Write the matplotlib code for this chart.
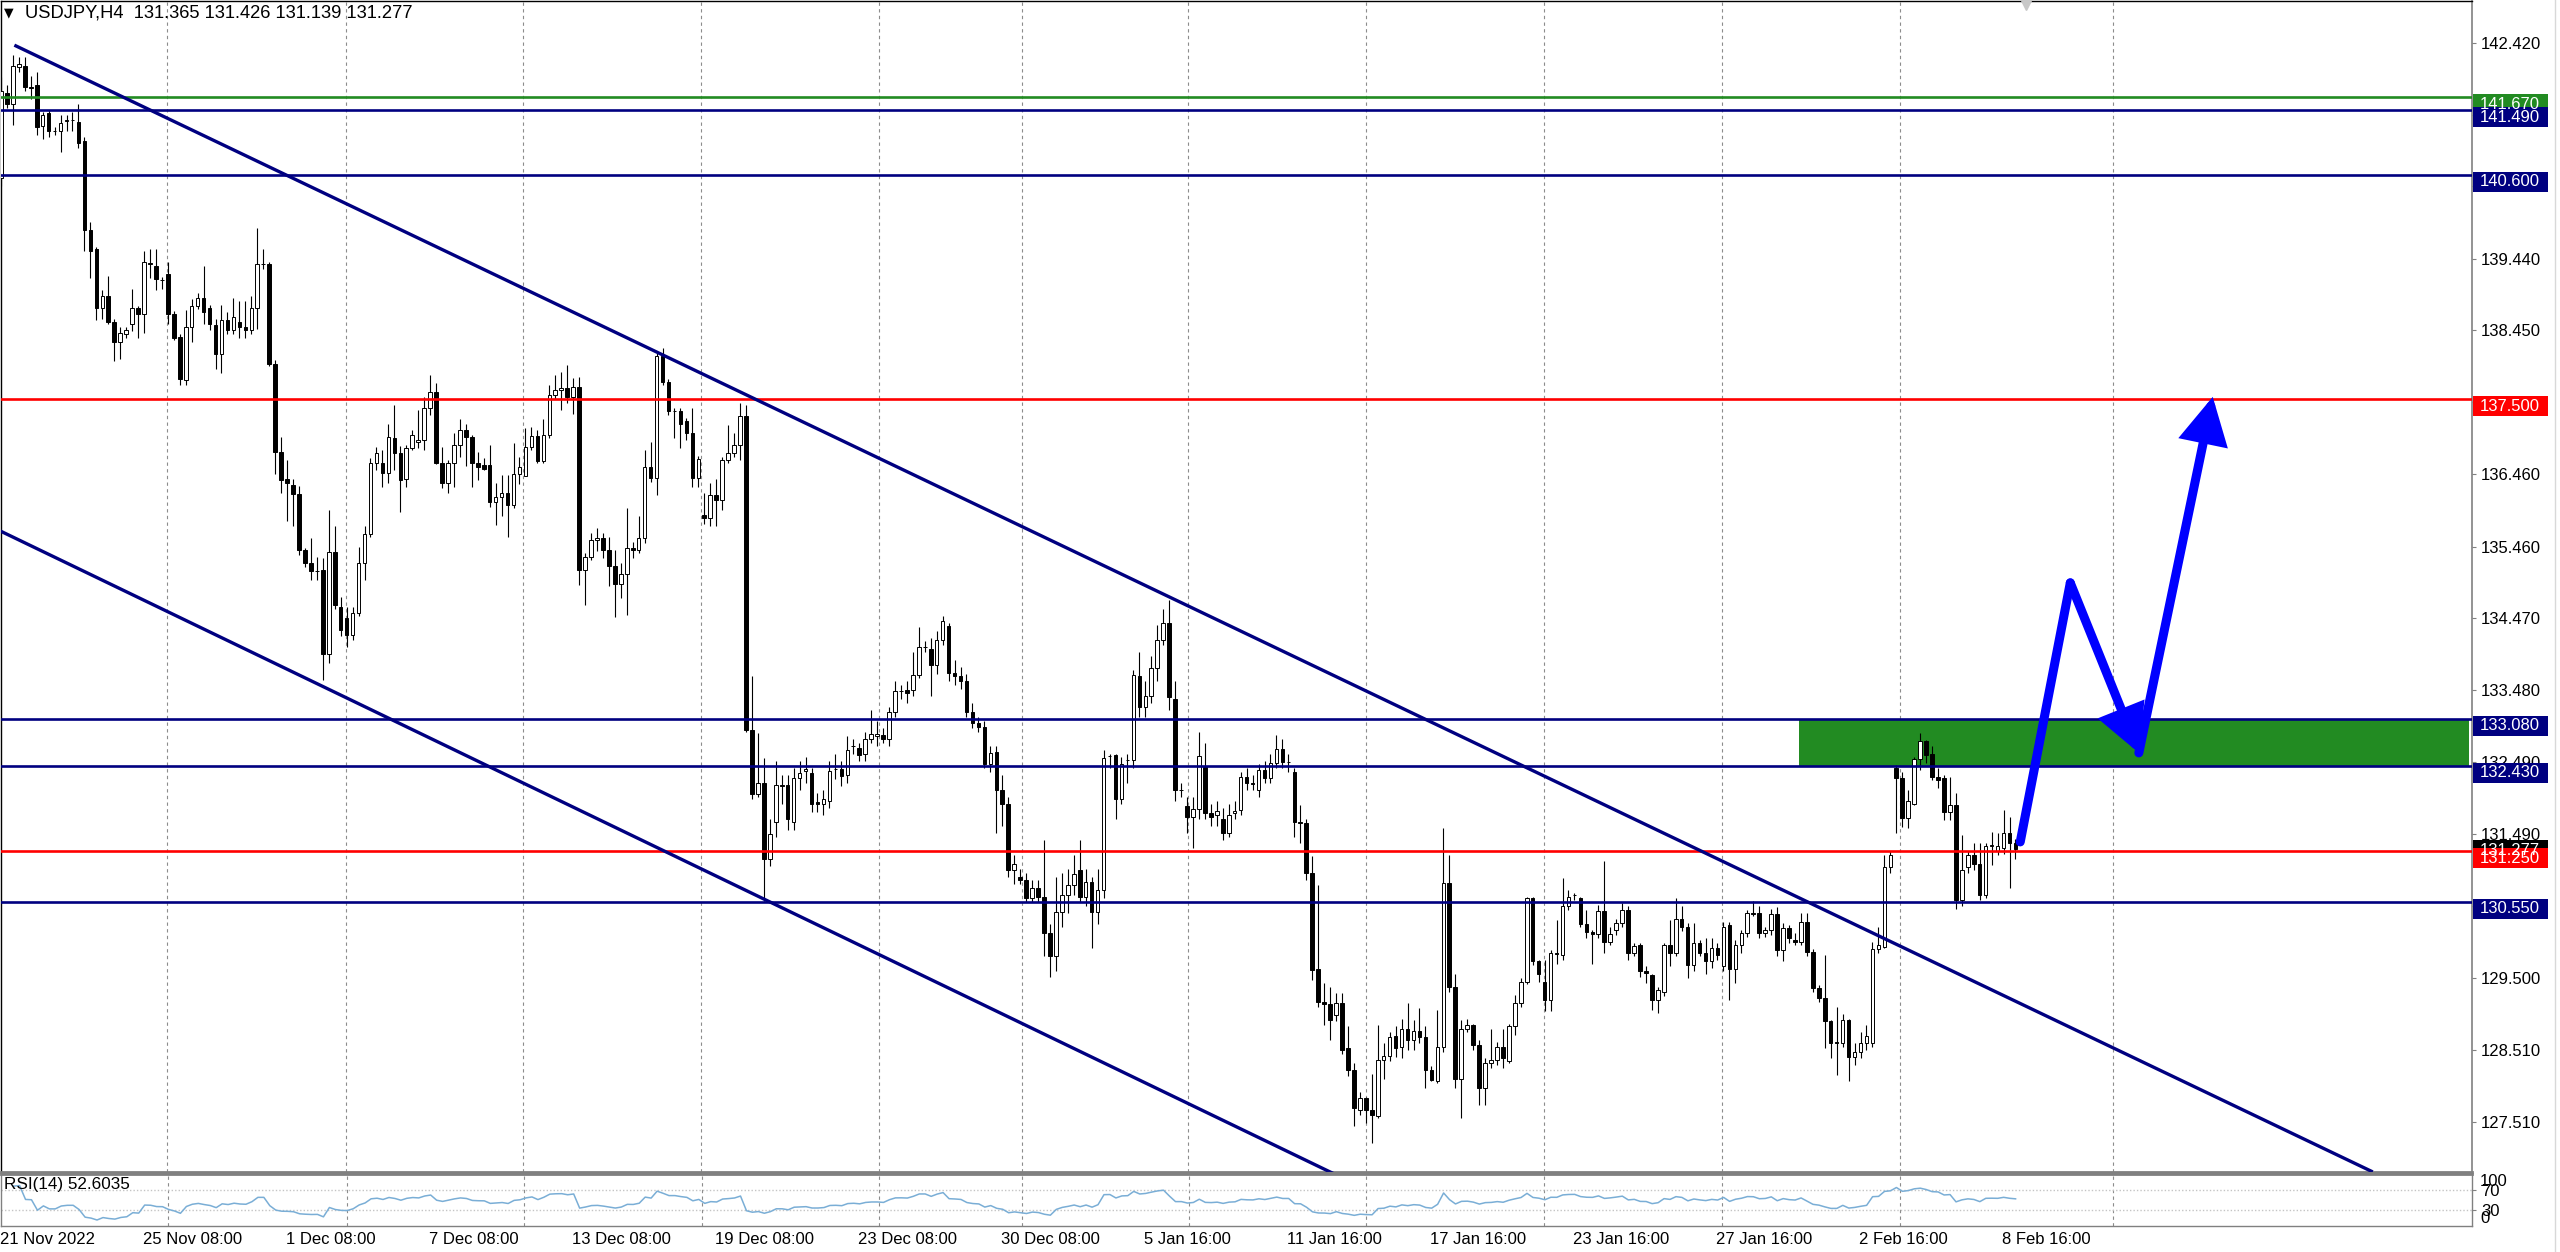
import numpy as np
import pandas as pd
import matplotlib
matplotlib.use("Agg")
import matplotlib.pyplot as plt
import matplotlib.transforms as mtransforms
from matplotlib.patches import Rectangle, FancyArrowPatch
from matplotlib.lines import Line2D

plt.rcParams['font.family'] = ['Liberation Sans', 'DejaVu Sans']

# USDJPY H4 candles, bar 0 = 21 Nov 2022
opens = [
    140.55, 141.73, 141.58, 142.09, 142.10, 141.81, 141.84, 141.27, 141.45, 141.20,
    141.20, 141.34, 141.35, 141.33, 141.06, 139.84, 139.58, 138.76, 138.92, 138.57,
    138.29, 138.40, 138.53, 138.76, 138.67, 139.38, 139.34, 139.15, 139.23, 138.67,
    138.36, 137.76, 138.50, 138.79, 138.90, 138.76, 138.52, 138.12, 138.59, 138.46,
    138.56, 138.50, 138.46, 138.76, 139.37, 139.37, 137.99, 136.77, 136.39, 136.31,
    136.19, 135.41, 135.23, 135.12, 135.14, 133.98, 135.39, 134.63, 134.48, 134.24,
    134.54, 135.23, 135.64, 136.61, 136.61, 136.48, 136.96, 136.76, 136.39, 136.82,
    136.90, 136.93, 137.37, 137.60, 136.61, 136.34, 136.61, 136.87, 137.07, 136.97,
    136.61, 136.59, 136.59, 136.08, 136.14, 136.20, 136.04, 136.47, 136.43, 136.84,
    136.99, 136.64, 137.00, 137.56, 137.63, 137.65, 137.53, 137.66, 135.14, 135.32,
    135.55, 135.58, 135.41, 135.19, 134.95, 135.08, 135.44, 135.42, 135.58, 136.56,
    136.41, 138.09, 137.74, 137.33, 137.33, 137.19, 137.03, 136.41, 135.90, 135.85,
    136.17, 136.10, 136.66, 136.75, 136.87, 137.26, 132.92, 132.04, 132.19, 131.14,
    131.66, 132.16, 132.16, 131.66, 132.27, 132.36, 132.33, 131.93, 131.91, 131.95,
    132.39, 132.39, 132.30, 132.70, 132.68, 132.60, 132.80, 132.84, 132.86, 132.80,
    133.18, 133.47, 133.48, 133.48, 133.69, 134.07, 134.04, 133.82, 134.17, 134.37,
    133.71, 133.67, 133.61, 133.18, 133.03, 132.97, 132.45, 132.62, 132.10, 131.90,
    130.99, 130.90, 130.85, 130.61, 130.75, 130.62, 130.12, 129.80, 130.41, 130.65,
    130.78, 130.99, 130.62, 130.82, 130.41, 130.71, 132.57, 132.58, 131.98, 132.51,
    132.51, 133.67, 133.24, 133.40, 133.79, 134.17, 134.40, 133.35, 132.10, 131.87,
    131.72, 131.84, 132.42, 131.78, 131.75, 131.69, 131.51, 131.78, 131.82, 132.28,
    132.20, 132.10, 132.38, 132.26, 132.47, 132.67, 132.48, 132.35, 131.66, 131.64,
    130.95, 129.63, 129.17, 129.14, 128.99, 129.16, 128.53, 128.23, 127.68, 127.84,
    127.68, 127.59, 128.37, 128.42, 128.70, 128.55, 128.80, 128.64, 128.77, 128.69,
    128.23, 128.07, 128.55, 130.81, 129.38, 128.11, 128.80, 128.85, 128.57, 127.98,
    128.32, 128.37, 128.55, 128.35, 128.83, 129.15, 129.45, 130.60, 129.73, 129.45,
    129.20, 129.85, 129.82, 130.49, 130.64, 130.60, 130.25, 130.13, 130.11, 130.42,
    130.00, 130.16, 130.26, 130.44, 129.84, 129.96, 129.60, 129.54, 129.20, 129.31,
    129.96, 129.84, 130.32, 130.21, 129.68, 129.98, 129.84, 129.73, 129.91, 129.66,
    130.23, 129.63, 129.96, 130.12, 130.40, 130.40, 130.12, 130.16, 130.39, 129.89,
    130.19, 130.03, 130.00, 130.28, 129.86, 129.36, 129.22, 128.90, 128.62, 128.60,
    128.92, 128.41, 128.48, 128.60, 128.60, 129.90, 129.93, 131.04, 132.40, 132.26,
    131.71, 131.91, 132.53, 132.77, 132.60, 132.28, 132.26, 131.80, 131.89, 130.58,
    131.04, 131.20, 131.08, 130.65, 131.32, 131.25, 131.29, 131.51, 131.365,
]
highs = [
    141.95, 141.84, 142.25, 142.22, 142.22, 141.96, 142.02, 141.46, 141.49, 141.26,
    141.43, 141.43, 141.46, 141.58, 141.12, 139.95, 139.60, 139.00, 139.20, 138.60,
    138.50, 138.50, 139.02, 138.79, 139.55, 139.57, 139.57, 139.18, 139.40, 138.72,
    138.40, 138.73, 138.88, 138.96, 139.34, 138.80, 138.60, 138.80, 138.70, 138.90,
    138.85, 138.85, 138.92, 139.87, 139.57, 139.40, 138.04, 136.98, 136.66, 136.40,
    136.30, 135.44, 135.58, 135.32, 135.30, 135.97, 135.75, 134.77, 134.63, 134.63,
    135.46, 135.74, 136.68, 136.84, 136.80, 137.16, 137.42, 136.85, 136.87, 137.07,
    137.35, 137.53, 137.83, 137.72, 136.84, 136.66, 137.03, 137.23, 137.16, 137.00,
    136.77, 136.68, 136.87, 136.34, 136.45, 136.45, 136.89, 136.70, 137.10, 137.12,
    137.07, 137.23, 137.69, 137.83, 137.88, 137.97, 137.79, 137.81, 135.37, 135.65,
    135.72, 135.65, 135.60, 135.42, 135.23, 135.99, 135.53, 135.88, 136.80, 136.91,
    138.13, 138.20, 137.77, 137.37, 137.37, 137.24, 137.37, 136.71, 136.20, 136.34,
    136.40, 136.70, 137.14, 137.03, 137.44, 137.42, 133.67, 132.89, 132.54, 131.70,
    132.50, 132.30, 132.30, 132.40, 132.50, 132.55, 132.40, 132.05, 132.10, 132.50,
    132.60, 132.50, 132.85, 132.80, 132.75, 132.90, 133.20, 133.05, 132.95, 133.25,
    133.60, 133.55, 133.60, 134.00, 134.35, 134.15, 134.20, 134.30, 134.50, 134.40,
    133.90, 133.80, 133.70, 133.30, 133.10, 133.05, 132.70, 132.70, 132.30, 132.00,
    131.20, 131.00, 130.95, 130.85, 130.85, 131.40, 130.25, 130.90, 130.95, 131.00,
    131.20, 131.40, 131.00, 130.90, 131.00, 132.65, 132.60, 132.60, 132.55, 132.60,
    133.75, 134.00, 133.60, 133.95, 134.38, 134.60, 134.72, 133.60, 132.20, 132.00,
    132.00, 132.90, 132.75, 131.90, 131.95, 131.85, 131.90, 131.95, 132.35, 132.40,
    132.30, 132.45, 132.50, 132.60, 132.86, 132.80, 132.60, 132.40, 131.89, 131.70,
    131.18, 130.79, 129.43, 129.38, 129.29, 129.29, 128.83, 128.32, 127.93, 127.86,
    128.18, 128.85, 128.60, 128.76, 128.83, 128.94, 129.15, 128.92, 129.08, 128.83,
    128.28, 129.06, 131.57, 131.20, 129.56, 128.92, 128.94, 128.87, 128.64, 128.39,
    128.80, 128.62, 128.80, 128.87, 129.27, 129.50, 130.62, 130.62, 129.75, 129.75,
    129.89, 130.30, 130.88, 130.71, 130.68, 130.62, 130.44, 130.16, 130.51, 131.11,
    130.21, 130.32, 130.53, 130.49, 129.98, 129.98, 129.66, 129.56, 129.38, 129.98,
    130.30, 130.60, 130.49, 130.26, 130.26, 130.03, 130.05, 130.05, 129.98, 130.28,
    130.28, 130.03, 130.16, 130.44, 130.57, 130.50, 130.21, 130.46, 130.48, 130.26,
    130.23, 130.12, 130.40, 130.40, 129.90, 129.40, 129.82, 128.92, 129.10, 129.00,
    128.94, 128.60, 128.75, 128.85, 130.00, 130.20, 131.20, 131.25, 132.44, 132.35,
    132.10, 132.56, 132.88, 132.79, 132.70, 132.40, 132.30, 132.28, 132.05, 131.48,
    131.25, 131.36, 131.36, 131.36, 131.52, 131.50, 131.82, 131.73, 131.426,
]
lows = [
    140.45, 141.52, 141.29, 142.02, 141.76, 141.64, 141.15, 141.09, 141.12, 141.15,
    140.91, 141.20, 141.20, 140.97, 139.55, 139.17, 138.59, 138.60, 138.53, 138.03,
    138.06, 138.35, 138.44, 138.35, 138.41, 139.17, 139.00, 139.02, 138.53, 138.32,
    137.69, 137.69, 138.29, 138.75, 138.53, 138.45, 137.92, 137.86, 138.40, 138.40,
    138.35, 138.35, 138.40, 138.47, 139.30, 137.95, 136.47, 136.20, 135.81, 135.74,
    135.35, 135.18, 135.00, 135.00, 133.62, 133.85, 134.60, 134.22, 134.08, 134.17,
    134.50, 135.00, 135.60, 136.52, 136.29, 136.34, 136.52, 135.94, 136.29, 136.80,
    136.82, 136.80, 137.28, 136.60, 136.27, 136.20, 136.29, 136.70, 136.57, 136.29,
    136.38, 136.52, 136.01, 135.76, 135.88, 135.60, 135.99, 136.33, 136.43, 136.80,
    136.61, 136.61, 136.96, 137.50, 137.35, 137.45, 137.30, 134.93, 134.65, 135.27,
    135.40, 135.30, 134.91, 134.49, 134.75, 134.52, 135.30, 135.37, 135.51, 136.36,
    136.17, 137.70, 137.28, 136.96, 136.82, 136.93, 136.29, 136.29, 135.77, 135.74,
    135.74, 135.97, 136.61, 136.70, 136.66, 132.90, 131.98, 132.00, 130.56, 131.05,
    131.45, 131.90, 131.55, 131.55, 132.10, 132.20, 131.80, 131.80, 131.75, 131.85,
    132.25, 132.15, 132.20, 132.60, 132.50, 132.50, 132.75, 132.70, 132.75, 132.70,
    133.10, 133.35, 133.30, 133.40, 133.65, 134.00, 133.40, 133.70, 134.10, 133.60,
    133.55, 133.50, 133.10, 132.95, 132.90, 132.40, 132.35, 131.50, 131.60, 130.90,
    130.80, 130.80, 130.55, 130.55, 130.55, 129.80, 129.51, 129.60, 130.20, 130.40,
    130.65, 130.55, 130.50, 129.92, 130.25, 130.60, 132.40, 131.70, 131.90, 132.20,
    132.40, 133.10, 133.10, 133.30, 133.60, 134.10, 133.20, 131.95, 132.00, 131.50,
    131.30, 131.70, 131.70, 131.60, 131.60, 131.40, 131.45, 131.70, 131.75, 132.10,
    132.10, 132.00, 132.20, 132.20, 132.40, 132.40, 132.35, 131.45, 131.36, 130.85,
    129.47, 129.10, 128.85, 128.64, 128.90, 128.45, 128.14, 127.45, 127.60, 127.49,
    127.22, 127.56, 128.11, 128.35, 128.41, 128.40, 128.50, 128.50, 128.60, 127.98,
    128.07, 128.05, 128.48, 129.30, 127.98, 127.56, 128.76, 128.50, 127.75, 127.75,
    128.25, 128.30, 128.25, 128.32, 128.71, 129.10, 129.42, 129.68, 129.45, 129.04,
    129.04, 129.70, 129.75, 130.44, 130.58, 130.20, 130.05, 129.70, 130.05, 129.84,
    129.95, 130.10, 130.20, 129.75, 129.80, 129.52, 129.43, 129.06, 129.01, 129.25,
    129.66, 129.80, 130.15, 129.50, 129.60, 129.80, 129.56, 129.64, 129.75, 129.59,
    129.20, 129.43, 129.84, 130.07, 130.36, 130.05, 130.07, 130.10, 129.80, 129.73,
    129.98, 129.95, 129.95, 129.80, 129.30, 129.17, 128.53, 128.40, 128.16, 128.55,
    128.07, 128.30, 128.40, 128.50, 128.55, 129.85, 129.91, 130.95, 131.50, 131.59,
    131.57, 131.89, 132.37, 132.47, 132.24, 132.12, 131.68, 131.68, 130.46, 130.49,
    130.95, 130.99, 130.58, 130.60, 131.06, 131.20, 131.22, 130.74, 131.139,
]
closes = [
    141.75, 141.58, 142.10, 142.13, 141.81, 141.80, 141.26, 141.43, 141.20, 141.20,
    141.32, 141.35, 141.35, 141.04, 139.84, 139.55, 138.76, 138.93, 138.56, 138.29,
    138.41, 138.46, 138.76, 138.67, 139.40, 139.37, 139.16, 139.14, 138.67, 138.35,
    137.77, 138.50, 138.79, 138.90, 138.70, 138.53, 138.12, 138.59, 138.46, 138.63,
    138.50, 138.46, 138.76, 139.37, 139.37, 137.99, 136.77, 136.38, 136.34, 136.19,
    135.41, 135.23, 135.12, 135.13, 133.98, 135.39, 134.65, 134.31, 134.24, 134.54,
    135.23, 135.64, 136.61, 136.76, 136.48, 136.97, 136.76, 136.38, 136.82, 137.00,
    136.93, 137.37, 137.60, 136.61, 136.34, 136.61, 136.87, 137.07, 136.97, 136.61,
    136.56, 136.54, 136.08, 136.14, 136.20, 136.04, 136.47, 136.56, 136.84, 136.99,
    136.64, 137.00, 137.56, 137.63, 137.65, 137.53, 137.66, 135.14, 135.32, 135.55,
    135.58, 135.41, 135.19, 134.95, 135.08, 135.44, 135.42, 135.58, 136.56, 136.41,
    138.09, 137.74, 137.33, 137.33, 137.16, 137.03, 136.41, 136.67, 135.85, 136.17,
    136.10, 136.66, 136.75, 136.87, 137.26, 132.92, 132.04, 132.19, 131.14, 131.49,
    132.16, 132.15, 131.69, 132.27, 132.33, 132.39, 131.90, 131.90, 131.98, 132.36,
    132.39, 132.29, 132.65, 132.70, 132.58, 132.80, 132.87, 132.87, 132.80, 133.18,
    133.46, 133.47, 133.44, 133.69, 134.07, 134.07, 133.82, 134.17, 134.43, 133.71,
    133.67, 133.61, 133.18, 133.03, 132.97, 132.45, 132.61, 132.10, 131.90, 130.99,
    131.08, 130.86, 130.61, 130.75, 130.62, 130.12, 129.80, 130.41, 130.65, 130.78,
    130.94, 130.62, 130.82, 130.41, 130.71, 132.54, 132.57, 131.98, 132.45, 132.51,
    133.69, 133.24, 133.40, 133.79, 134.17, 134.40, 133.38, 132.10, 132.10, 131.72,
    131.84, 132.57, 131.78, 131.72, 131.81, 131.51, 131.75, 131.81, 132.28, 132.20,
    132.18, 132.38, 132.26, 132.47, 132.67, 132.48, 132.48, 131.66, 131.64, 130.95,
    129.61, 129.17, 129.14, 128.92, 129.16, 128.51, 128.23, 127.70, 127.84, 127.68,
    127.61, 128.37, 128.42, 128.69, 128.53, 128.80, 128.64, 128.77, 128.69, 128.23,
    128.09, 128.55, 130.81, 129.38, 128.11, 128.80, 128.85, 128.57, 127.98, 128.32,
    128.37, 128.55, 128.39, 128.83, 129.15, 129.45, 130.60, 129.73, 129.56, 129.20,
    129.84, 129.83, 130.49, 130.62, 130.65, 130.25, 130.13, 130.11, 130.42, 130.00,
    130.11, 130.26, 130.44, 129.84, 129.94, 129.59, 129.57, 129.20, 129.33, 129.96,
    129.84, 130.32, 130.21, 129.68, 129.98, 129.84, 129.73, 129.91, 129.82, 130.21,
    129.63, 129.96, 130.12, 130.40, 130.38, 130.12, 130.16, 130.39, 129.89, 130.19,
    130.05, 130.00, 130.28, 129.86, 129.36, 129.22, 128.90, 128.60, 128.60, 128.92,
    128.41, 128.48, 128.60, 128.70, 129.90, 129.95, 131.04, 131.20, 132.26, 131.71,
    131.94, 132.53, 132.77, 132.58, 132.28, 132.24, 131.80, 131.89, 130.58, 130.99,
    131.20, 131.08, 130.65, 131.32, 131.34, 131.32, 131.51, 131.36, 131.277,
]

# horizontal levels and their colours
level_prices = [141.67, 141.49, 140.60, 137.50, 133.08, 132.43, 131.25, 130.55]
level_colors = ['#228B22', '#000080', '#000080', '#ff0000', '#000080', '#000080', '#ff0000', '#000080']
level_texts = ['141.670', '141.490', '140.600', '137.500', '133.080', '132.430', '131.250', '130.550']
bid_price = 131.277

# supply zone
zone_start, zone_low, zone_high = 301.7, 132.43, 133.08

# channel lines (bar index, price)
upper_x, upper_y = [2.5, 397.7], [142.38, 126.83]
lower_x, lower_y = [-0.2, 223.5], [135.68, 126.80]

# projected path
path_x = [338.8, 347.2, 358.7, 371.1]
path_y = [131.38, 134.96, 132.61, 137.53]

price_ticks = [142.42, 141.43, 140.45, 139.44, 138.45, 137.46, 136.46, 135.46,
               134.47, 133.48, 132.49, 131.49, 130.50, 129.50, 128.51, 127.51]
date_labels = ['21 Nov 2022', '25 Nov 08:00', '1 Dec 08:00', '7 Dec 08:00', '13 Dec 08:00',
               '19 Dec 08:00', '23 Dec 08:00', '30 Dec 08:00', '5 Jan 16:00', '11 Jan 16:00',
               '17 Jan 16:00', '23 Jan 16:00', '27 Jan 16:00', '2 Feb 16:00', '8 Feb 16:00']
grid_bars = [27.9, 57.9, 87.6, 117.5, 147.3, 171.3, 199.2, 229.0, 258.9, 288.8, 318.6, 354.4]

W, H = 2560, 1252
fig = plt.figure(figsize=(W / 100, H / 100), dpi=100)
fig.patch.set_facecolor('white')


def px_axes(x0, y0, x1, y1):
    return fig.add_axes([x0 / W, 1 - y1 / H, (x1 - x0) / W, (y1 - y0) / H])


ax = px_axes(0.5, 0.5, 2472, 1172)
axr = px_axes(0.5, 1174, 2472, 1226)

xmin, xmax = -0.08, 414.6
ytop, ybot = 143.007, 126.819
ax.set_xlim(xmin, xmax)
ax.set_ylim(ybot, ytop)
axr.set_xlim(xmin, xmax)
axr.set_ylim(0, 100)
axw = 2471.5
pp = (ytop - ybot) / 1171.5  # price per pixel

o = np.array(opens)
h = np.array(highs)
l = np.array(lows)
c = np.array(closes)
x = np.arange(len(c))
up = c >= o

# grid
for g in grid_bars:
    ax.axvline(g, color='#8c8c8c', lw=0.8, ls=(0, (3, 3)), zorder=0.5)
    axr.axvline(g, color='#8c8c8c', lw=0.8, ls=(0, (3, 3)), zorder=0.5)

ax.add_patch(Rectangle((zone_start, zone_low), 414.1 - zone_start, zone_high - zone_low,
                       fc='#228B22', ec='none', zorder=1))

# candles
ax.vlines(x, l, h, color='black', lw=0.8, zorder=2)
ax.bar(x, np.abs(c - o), bottom=np.minimum(o, c), width=0.6,
       color=np.where(up, 'white', 'black'), edgecolor='black', linewidth=0.7, zorder=3)

for p, col in zip(level_prices, level_colors):
    ax.axhline(p, color=col, lw=1.9, zorder=4)

ax.plot(upper_x, upper_y, color='#000080', lw=2.4, zorder=4)
ax.plot(lower_x, lower_y, color='#000080', lw=2.4, zorder=4)

# projection arrows
ax.plot(path_x[:2], path_y[:2], color='#0000ff', lw=6.5, solid_capstyle='round', zorder=5)
for k in (1, 2):
    arr = FancyArrowPatch((path_x[k], path_y[k]), (path_x[k + 1], path_y[k + 1]),
                          arrowstyle='-|>,head_length=0.6,head_width=0.32', mutation_scale=40,
                          color='#0000ff', lw=6.5, shrinkA=0, shrinkB=0, zorder=5,
                          capstyle='round', joinstyle='miter')
    ax.add_patch(arr)

# chart shift marker
ax.plot([339.8], [ytop - 4 * pp], marker='v', color='#c8c8c8', ms=9, clip_on=False, zorder=6)

# right price scale
ax.yaxis.tick_right()
ax.set_yticks(price_ticks)
ax.set_yticklabels(['%.3f' % t for t in price_ticks])
ax.tick_params(axis='y', length=3, width=0.8, color='#808080', pad=3.6, labelsize=12, labelcolor='black')
ax.set_xticks([])

blend = mtransforms.blended_transform_factory(ax.transAxes, ax.transData)


def price_box(p, txt, col, top_off=3):
    ax.add_patch(Rectangle((1 + 1 / axw, p - (20 - top_off) * pp), 75 / axw, 20 * pp,
                           transform=blend, fc=col, ec='none', clip_on=False, zorder=6))
    ax.text(1 + 8 / axw, p - (10 - top_off) * pp, txt, transform=blend, color='white',
            fontsize=12, va='center', ha='left', zorder=7, clip_on=False)


price_box(bid_price, '131.277', 'black', top_off=9)
for p, col, t in zip(level_prices, level_colors, level_texts):
    price_box(p, t, col)

for s in ['left', 'top']:
    ax.spines[s].set_color('black')
    ax.spines[s].set_linewidth(1)
ax.spines['right'].set_color('#808080')
ax.spines['right'].set_linewidth(1.2)
ax.spines['bottom'].set_color('#808080')
ax.spines['bottom'].set_linewidth(2)

# RSI(14) panel
d = pd.Series(c).diff()
gain = d.clip(lower=0).ewm(alpha=1 / 14, adjust=True).mean()
loss = (-d.clip(upper=0)).ewm(alpha=1 / 14, adjust=True).mean()
rsi = 100 - 100 / (1 + gain / loss)
axr.plot(x[2:], rsi.values[2:], color='#7aaed6', lw=1.1, zorder=3)
for lv in (70, 30):
    axr.axhline(lv, color='#c4c4c4', lw=1, ls=(0, (1, 1.5)), zorder=1)

axr.yaxis.tick_right()
axr.set_yticks([30, 70])
axr.set_yticklabels(['30', '70'])
axr.tick_params(axis='y', length=3, width=0.8, color='#808080', pad=3.6, labelsize=12)
axr.text(1 + 8 / axw, 100, '100', transform=axr.get_yaxis_transform(), fontsize=12,
         va='top', ha='left', clip_on=False)
axr.text(1 + 8 / axw, 0, '0', transform=axr.get_yaxis_transform(), fontsize=12,
         va='bottom', ha='left', clip_on=False)

label_bars = [24 * k - 0.2 for k in range(len(date_labels))]
axr.set_xticks(label_bars)
axr.set_xticklabels(date_labels, fontsize=12)
for lab in axr.get_xticklabels():
    lab.set_horizontalalignment('left')
axr.tick_params(axis='x', length=0, pad=4)

for s in ['left', 'right', 'bottom']:
    axr.spines[s].set_color('#808080')
    axr.spines[s].set_linewidth(1)
axr.spines['top'].set_color('#808080')
axr.spines['top'].set_linewidth(2)

# header texts
fig.text(4 / W, 1 - 13 / H, '\u25bc', fontsize=9, va='center', ha='left', color='black',
         family=['DejaVu Sans'])
fig.text(25 / W, 1 - 13 / H, 'USDJPY,H4  131.365 131.426 131.139 131.277', fontsize=13.2,
         va='center', ha='left', color='black')
fig.text(4 / W, 1 - 1185 / H, 'RSI(14) 52.6035', fontsize=12.3, va='center', ha='left',
         color='black')

fig.add_artist(Line2D([2555 / W, 2555 / W], [0, 1], color='#d8d8d8', lw=1))

fig.savefig('out.png', dpi=100)
